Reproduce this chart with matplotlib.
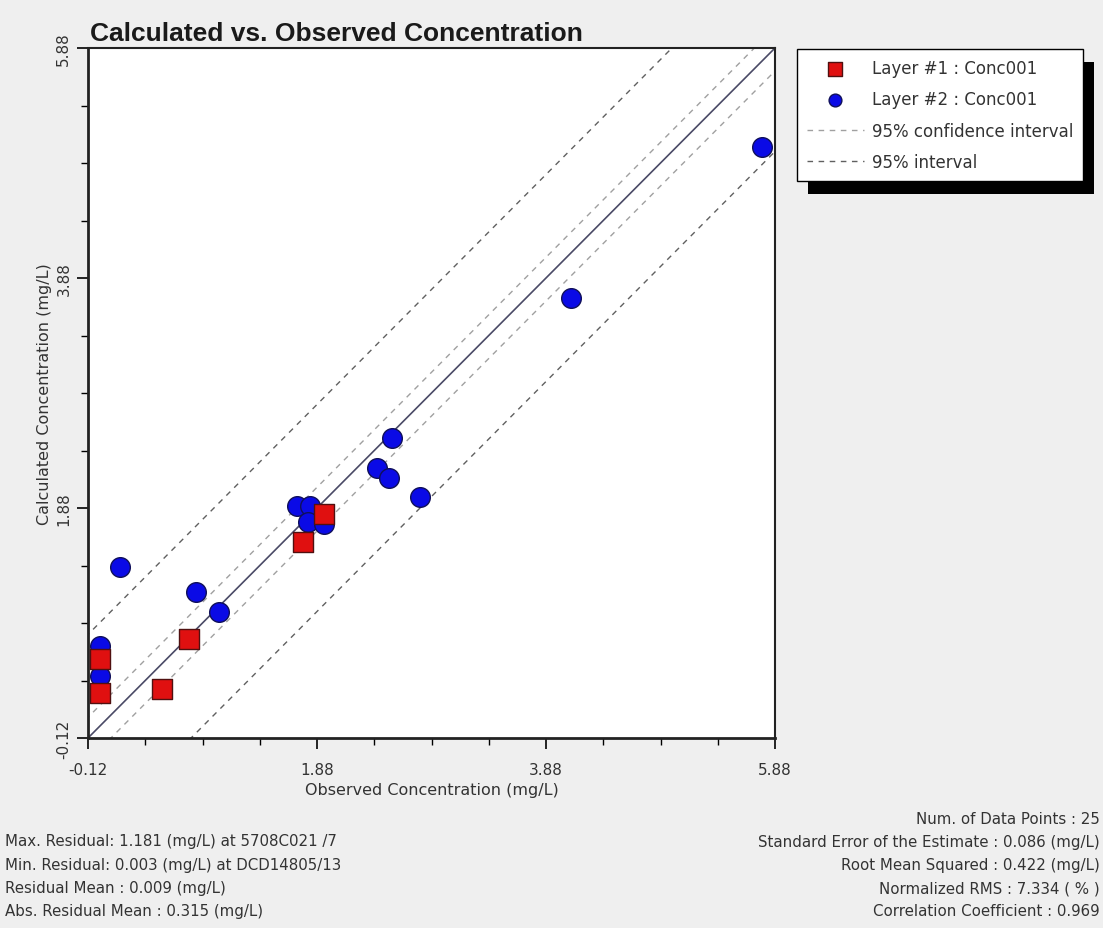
import matplotlib
matplotlib.use("Agg")
import matplotlib.pyplot as plt
import numpy as np
from matplotlib.patches import Rectangle
from matplotlib.ticker import FixedLocator

plt.rcParams['font.family'] = ['DejaVu Sans']

# Layer #1 : Conc001 (observed, calculated) in mg/L
layer1_obs = [-0.015, -0.015, 0.526, 0.762, 1.758, 1.941]
layer1_calc = [0.570, 0.275, 0.305, 0.739, 1.581, 1.824]

# Layer #2 : Conc001 (observed, calculated) in mg/L
layer2_obs = [5.766, 4.098, 2.535, 2.404, 2.509, 2.780, 1.705, 1.819,
              1.801, 1.941, 0.159, 0.823, 1.024, -0.015, -0.015]
layer2_calc = [5.019, 3.708, 2.493, 2.224, 2.137, 1.972, 1.894, 1.894,
               1.755, 1.738, 1.364, 1.147, 0.974, 0.680, 0.420]

# Interval half-widths around the 1:1 line (mg/L)
conf_upper, conf_lower = 0.18, -0.20
pred_upper, pred_lower = 0.90, -0.90

axis_min, axis_max = -0.12, 5.88
major_ticks = [-0.12, 1.88, 3.88, 5.88]
tick_labels = ["-0.12", "1.88", "3.88", "5.88"]

stats_left = [
    "Max. Residual: 1.181 (mg/L) at 5708C021 /7",
    "Min. Residual: 0.003 (mg/L) at DCD14805/13",
    "Residual Mean : 0.009 (mg/L)",
    "Abs. Residual Mean : 0.315 (mg/L)",
]
stats_right = [
    "Num. of Data Points : 25",
    "Standard Error of the Estimate : 0.086 (mg/L)",
    "Root Mean Squared : 0.422 (mg/L)",
    "Normalized RMS : 7.334 ( % )",
    "Correlation Coefficient : 0.969",
]

W, H = 1103, 929
fig = plt.figure(figsize=(W / 100, H / 100), dpi=100, facecolor="#efefef")
ax = fig.add_axes([88 / W, 1 - 739 / H, (775 - 88) / W, (739 - 49) / H])
ax.set_facecolor("white")

line_x = np.array([axis_min - 1, axis_max + 1])
dash = (0, (4, 4))
ax.plot(line_x, line_x, color="#4a4a66", lw=1.2, zorder=2)
ax.plot(line_x, line_x + conf_upper, color="#a0a0a0", lw=1.0, ls=dash, zorder=2,
        label="95% confidence interval")
ax.plot(line_x, line_x + conf_lower, color="#a0a0a0", lw=1.0, ls=dash, zorder=2)
ax.plot(line_x, line_x + pred_upper, color="#606060", lw=1.0, ls=dash, zorder=2,
        label="95% interval")
ax.plot(line_x, line_x + pred_lower, color="#606060", lw=1.0, ls=dash, zorder=2)

h2 = ax.scatter(layer2_obs, layer2_calc, s=200, marker="o", c="#0a0ae6",
                edgecolors="#10105a", linewidths=1.0, zorder=4, label="Layer #2 : Conc001")
h1 = ax.scatter(layer1_obs, layer1_calc, s=210, marker="s", c="#e01010",
                edgecolors="#501010", linewidths=1.0, zorder=5, label="Layer #1 : Conc001")

ax.set_xlim(axis_min, axis_max)
ax.set_ylim(axis_min, axis_max)
ax.xaxis.set_major_locator(FixedLocator(major_ticks))
ax.yaxis.set_major_locator(FixedLocator(major_ticks))
ax.set_xticklabels(tick_labels)
ax.set_yticklabels(tick_labels, rotation=90, va="center")
minor = [axis_min + 0.5 * i for i in range(13)]
ax.xaxis.set_minor_locator(FixedLocator(minor))
ax.yaxis.set_minor_locator(FixedLocator(minor))
ax.tick_params(which="major", direction="out", length=8, width=1.2, color="black",
               labelsize=11, labelcolor="#333333")
ax.tick_params(axis="x", which="major", pad=9)
ax.tick_params(axis="y", which="major", pad=4)
ax.tick_params(which="minor", direction="out", length=5, width=1.0, color="black")
for side in ax.spines.values():
    side.set_linewidth(1.5)
    side.set_color("#222222")
ax.spines["left"].set_linewidth(2)
ax.spines["bottom"].set_linewidth(2)

ax.set_xlabel("Observed Concentration (mg/L)", fontsize=11.5, color="#333333", labelpad=4)
ax.set_ylabel("Calculated Concentration (mg/L)", fontsize=11.5, color="#333333", labelpad=3)

fig.text(90 / W, 1 - 34 / H, "Calculated vs. Observed Concentration", fontsize=19,
         fontweight="bold", color="#1a1a1a", va="center", ha="left",
         family="Liberation Sans")

# Legend with a solid drop shadow
handles = [h1, h2] + [l for l in ax.lines if l.get_label() in
                      ("95% confidence interval", "95% interval")]
leg = fig.legend(handles=handles, loc="upper left", bbox_to_anchor=(797 / W, 1 - 50 / H),
                 borderaxespad=0, fontsize=12, frameon=True, fancybox=False,
                 edgecolor="black", framealpha=1, borderpad=0.6, labelspacing=0.8,
                 handlelength=3.4, handletextpad=0.5, markerscale=0.65, scatterpoints=1)
leg.get_frame().set_linewidth(1.0)
for t in leg.get_texts():
    t.set_color("#333333")
fig.canvas.draw()
bb = leg.get_window_extent()
fig.patches.append(Rectangle((bb.x0 + 11, bb.y0 - 13), bb.width, bb.height,
                             transform=None, facecolor="black", edgecolor="none",
                             zorder=leg.get_zorder() - 1))

for i, s in enumerate(stats_left):
    fig.text(5 / W, 1 - (842 + 23.3 * i) / H, s, fontsize=10.8, color="#333333",
             va="center", ha="left")
for i, s in enumerate(stats_right):
    fig.text(1100 / W, 1 - (820 + 23 * i) / H, s, fontsize=10.8, color="#333333",
             va="center", ha="right")

fig.savefig("out.png", dpi=100, facecolor=fig.get_facecolor())
